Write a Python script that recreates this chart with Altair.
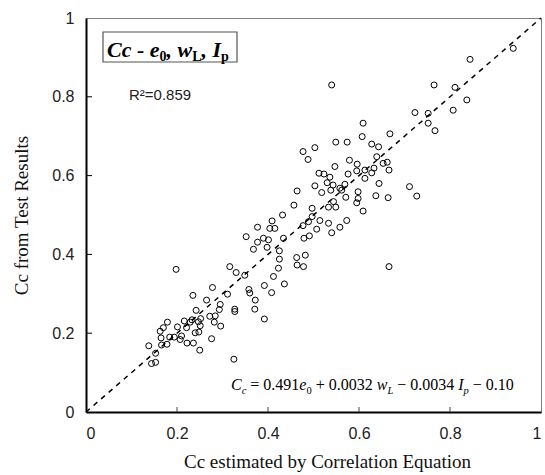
import altair as alt
import pandas as pd

# ---- data ----
cc_estimated = [
    0.939, 0.844, 0.540, 0.765, 0.811, 0.837, 0.723, 0.752, 0.807, 0.609,
    0.752, 0.767, 0.668, 0.607, 0.549, 0.574, 0.628, 0.643, 0.503, 0.477,
    0.488, 0.639, 0.579, 0.596, 0.662, 0.653, 0.547, 0.666, 0.633, 0.613,
    0.628, 0.512, 0.523, 0.576, 0.536, 0.595, 0.613, 0.530, 0.543, 0.503,
    0.644, 0.569, 0.558, 0.562, 0.538, 0.518, 0.598, 0.464, 0.711, 0.727,
    0.637, 0.664, 0.571, 0.598, 0.544, 0.595, 0.457, 0.497, 0.533, 0.549,
    0.609, 0.432, 0.497, 0.514, 0.573, 0.489, 0.533, 0.477, 0.507, 0.558,
    0.540, 0.491, 0.479, 0.482, 0.478, 0.666, 0.409, 0.404, 0.415, 0.377,
    0.352, 0.390, 0.401, 0.377, 0.368, 0.398, 0.434, 0.425, 0.425, 0.463,
    0.464, 0.316, 0.198, 0.423, 0.330, 0.349, 0.412, 0.392, 0.436, 0.408,
    0.358, 0.360, 0.372, 0.278, 0.311, 0.235, 0.265, 0.295, 0.327, 0.327,
    0.371, 0.242, 0.293, 0.272, 0.284, 0.252, 0.233, 0.216, 0.229, 0.247,
    0.282, 0.392, 0.179, 0.201, 0.221, 0.251, 0.296, 0.170, 0.163, 0.210,
    0.240, 0.248, 0.184, 0.194, 0.165, 0.276, 0.207, 0.222, 0.236, 0.166,
    0.178, 0.138, 0.250, 0.153, 0.144, 0.153, 0.325,
]
cc_test = [
    0.923, 0.895, 0.830, 0.830, 0.824, 0.792, 0.760, 0.758, 0.766, 0.733,
    0.733, 0.714, 0.706, 0.699, 0.685, 0.685, 0.680, 0.673, 0.671, 0.661,
    0.641, 0.648, 0.639, 0.629, 0.634, 0.631, 0.623, 0.614, 0.619, 0.614,
    0.607, 0.606, 0.604, 0.604, 0.596, 0.612, 0.593, 0.582, 0.576, 0.574,
    0.580, 0.578, 0.568, 0.563, 0.563, 0.557, 0.559, 0.561, 0.572, 0.548,
    0.549, 0.544, 0.545, 0.542, 0.534, 0.531, 0.525, 0.517, 0.520, 0.520,
    0.510, 0.500, 0.496, 0.486, 0.486, 0.483, 0.479, 0.473, 0.464, 0.469,
    0.455, 0.447, 0.441, 0.398, 0.369, 0.369, 0.485, 0.466, 0.466, 0.469,
    0.445, 0.441, 0.437, 0.431, 0.413, 0.418, 0.441, 0.409, 0.388, 0.392,
    0.373, 0.369, 0.362, 0.365, 0.354, 0.347, 0.344, 0.321, 0.325, 0.303,
    0.311, 0.302, 0.284, 0.316, 0.299, 0.296, 0.284, 0.273, 0.261, 0.255,
    0.261, 0.258, 0.260, 0.243, 0.244, 0.237, 0.234, 0.231, 0.228, 0.229,
    0.228, 0.236, 0.228, 0.216, 0.214, 0.219, 0.218, 0.214, 0.205, 0.193,
    0.201, 0.203, 0.190, 0.190, 0.188, 0.186, 0.184, 0.175, 0.175, 0.170,
    0.172, 0.168, 0.157, 0.149, 0.123, 0.126, 0.134,
]
diag_x = [0.0, 1.0]
diag_y = [0.0, 1.0]
tick_values = [0.0, 0.2, 0.4, 0.6, 0.8, 1.0]
inner_ticks = [0.2, 0.4, 0.6, 0.8]
x_title = "Cc estimated by Correlation Equation"
y_title = "Cc from Test Results"
r2_text = "R\u00b2=0.859"

W, H = 455, 394
SERIF = "Liberation Serif"
SANS = "Liberation Sans"

pts_df = pd.DataFrame({"x": cc_estimated, "y": cc_test})
diag_df = pd.DataFrame({"x": diag_x, "y": diag_y})

xscale = alt.Scale(domain=[0, 1], nice=False, zero=False)
yscale = alt.Scale(domain=[0, 1], nice=False, zero=False)

x_axis = alt.Axis(values=tick_values, format="~g", ticks=False, tickSize=0, grid=False,
                  labelFont=SANS, labelFontSize=16, labelColor="#222", labelPadding=13,
                  domainColor="black", domainWidth=2,
                  titleFont=SERIF, titleFontSize=19, titleFontWeight="normal",
                  titleColor="#111", titlePadding=11, titleX=241)
y_axis = alt.Axis(values=tick_values, format="~g", ticks=False, tickSize=0, grid=False,
                  labelFont=SANS, labelFontSize=16, labelColor="#222", labelPadding=12,
                  domainColor="black", domainWidth=2,
                  titleFont=SERIF, titleFontSize=19, titleFontWeight="normal",
                  titleColor="#111", titlePadding=20)

points = alt.Chart(pts_df).mark_point(shape="circle", filled=False, size=36,
                                      stroke="black", strokeWidth=1, opacity=1).encode(
    x=alt.X("x:Q", scale=xscale, axis=x_axis, title=x_title),
    y=alt.Y("y:Q", scale=yscale, axis=y_axis, title=y_title),
)

diag = alt.Chart(diag_df).mark_line(color="black", strokeWidth=1.5, strokeDash=[5, 5]).encode(
    x=alt.X("x:Q", scale=xscale), y=alt.Y("y:Q", scale=yscale))

tick_df = pd.DataFrame({"t": inner_ticks})
yticks = alt.Chart(tick_df).mark_rule(color="black", strokeWidth=1).encode(
    y=alt.Y("t:Q", scale=yscale), x=alt.value(0), x2=alt.value(6))
xticks = alt.Chart(tick_df).mark_rule(color="#444", strokeWidth=1).encode(
    x=alt.X("t:Q", scale=xscale), y=alt.value(H), y2=alt.value(H - 5))

layers = [diag, points, yticks, xticks]

# ---- label box at the top left ----
box = alt.Chart(pd.DataFrame({"a": [0]})).mark_rect(fill="white", stroke="#555", strokeWidth=1.2).encode(
    x=alt.value(17), x2=alt.value(151), y=alt.value(14), y2=alt.value(44))
layers.append(box)


def place(pieces, x0, base):
    out = []
    x = x0
    for text, style, weight, size, dy, width_em, gap_em in pieces:
        x += gap_em * size
        out.append(alt.Chart(pd.DataFrame({"t": [text]})).mark_text(
            align="left", baseline="alphabetic", font=SERIF, fontSize=size,
            fontStyle=style, fontWeight=weight, color="black").encode(
            text="t:N", x=alt.value(x), y=alt.value(base + dy)))
        x += width_em * size
    return out


B, S = 22, 14
box_pieces = [
    ("Cc - e", "italic", "bold", B, 0, 2.388, 0),
    ("0", "normal", "bold", S, 4, 0.5, 0),
    (", w", "italic", "bold", B, 0, 1.167, 0),
    ("L", "normal", "bold", S, 4, 0.667, 0),
    (", I", "italic", "bold", B, 0, 0.889, 0),
    ("p", "normal", "bold", S, 4, 0.556, 0),
]
layers += place(box_pieces, 21, 39)

r2 = alt.Chart(pd.DataFrame({"t": [r2_text]})).mark_text(
    align="left", baseline="alphabetic", font=SANS, fontSize=15, color="#222").encode(
    text="t:N", x=alt.value(43), y=alt.value(82))
layers.append(r2)

F, s = 16, 10.5
eq_pieces = [
    ("C", "italic", "normal", F, 0, 0.667, 0),
    ("c", "italic", "normal", s, 4, 0.444, 0),
    ("= 0.491", "normal", "normal", F, 0, 3.064, 0.25),
    ("e", "italic", "normal", F, 0, 0.444, 0),
    ("0", "normal", "normal", s, 4, 0.5, 0),
    ("+ 0.0032", "normal", "normal", F, 0, 3.564, 0.25),
    ("w", "italic", "normal", F, 0, 0.667, 0.25),
    ("L", "italic", "normal", s, 4, 0.556, 0),
    ("\u2212 0.0034", "normal", "normal", F, 0, 3.564, 0.25),
    ("I", "italic", "normal", F, 0, 0.333, 0.25),
    ("p", "italic", "normal", s, 4, 0.5, 0),
    ("\u2212 0.10", "normal", "normal", F, 0, 2.564, 0.25),
]
layers += place(eq_pieces, 145, 372)

chart = alt.layer(*layers).properties(
    width=W, height=H,
    autosize=alt.AutoSizeParams(type="none"),
    padding={"left": 86, "top": 18, "right": 4, "bottom": 63},
    background="white",
).configure_view(stroke="#808080", strokeWidth=1)

chart.save("out.html", embed_options={"renderer": "svg", "actions": False})
